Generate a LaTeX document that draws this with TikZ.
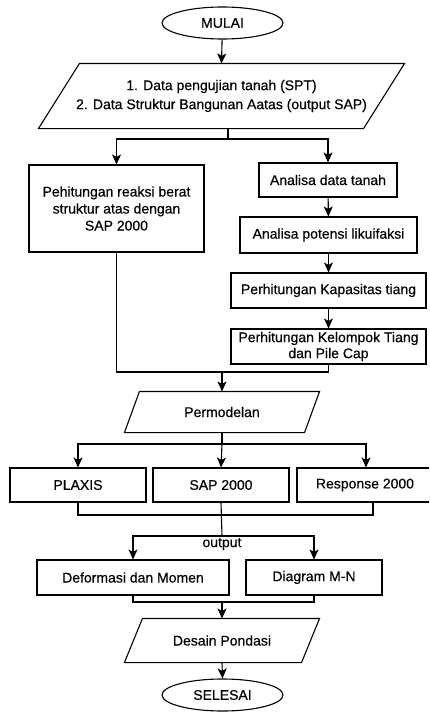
\documentclass[tikz,border=0pt]{standalone}
\usepackage{fontspec}
\setmainfont{Liberation Sans}[FakeBold=0.4]
\usetikzlibrary{shapes.geometric,arrows.meta}
\tikzset{
  base/.style={line width=1.1pt, inner sep=0pt, align=center, font=\fontsize{14}{17}\selectfont},
  box/.style={base, draw, rectangle},
  oval/.style={base, draw, ellipse, minimum width=121pt, minimum height=32pt},
  paratext/.style={base, rectangle},
  line/.style={line width=1.1pt},
  arr/.style={line width=1.1pt, -{Stealth[length=10pt, width=9pt, inset=2.5pt]}},
}
\begin{document}
\begin{tikzpicture}[x=1pt,y=-1pt]
\useasboundingbox (0,0) rectangle (429,712);
\clip (0,0) rectangle (429,712);
\fill[white] (0,0) rectangle (429,712);

\node[oval] (mulai) at (222.5,23) {MULAI};
\node[paratext, minimum width=365pt, minimum height=64pt, font=\fontsize{14}{19}\selectfont] (data) at (221.5,96)
  {1. Data pengujian tanah (SPT)\\2. Data Struktur Bangunan Aatas (output SAP)};
\draw[line] ([xshift=41pt]data.north west) -- (data.north east) -- ([xshift=-41pt]data.south east) -- (data.south west) -- cycle;

\node[box, minimum width=175pt, minimum height=87pt] (left) at (116.5,208.5)
  {Pehitungan reaksi berat\\struktur atas dengan\\SAP 2000};
\node[box, minimum width=138pt, minimum height=34pt] (tanah) at (328,180) {Analisa data tanah};
\node[box, minimum width=177pt, minimum height=36pt] (likui) at (328.5,235) {Analisa potensi likuifaksi};
\node[box, minimum width=195pt, minimum height=35pt] (kapas) at (328.5,290.5) {Perhitungan Kapasitas tiang};
\node[box, minimum width=195pt, minimum height=35pt, font=\fontsize{14}{16}\selectfont] (kelom) at (328.5,346.5)
  {Perhitungan Kelompok Tiang\\dan Pile Cap};

\node[paratext, minimum width=194pt, minimum height=40pt] (model) at (222,412) {Permodelan};
\draw[line] ([xshift=15pt]model.north west) -- (model.north east) -- ([xshift=-15pt]model.south east) -- (model.south west) -- cycle;

\node[box, minimum width=136pt, minimum height=34pt] (plaxis) at (78,485) {PLAXIS};
\node[box, minimum width=136pt, minimum height=34pt] (sap) at (221,485) {SAP 2000};
\node[box, minimum width=136pt, minimum height=34pt] (resp) at (365,485) {Response 2000};

\node[box, minimum width=192pt, minimum height=35pt] (deform) at (133,577.5) {Deformasi dan Momen};
\node[box, minimum width=136pt, minimum height=35pt] (diag) at (314,577.5) {Diagram M-N};

\node[paratext, minimum width=194pt, minimum height=43pt] (desain) at (222,640.5) {Desain Pondasi};
\draw[line] ([xshift=18pt]desain.north west) -- (desain.north east) -- ([xshift=-18pt]desain.south east) -- (desain.south west) -- cycle;

\node[oval] (selesai) at (222.5,695) {SELESAI};

\node[base] (outlbl) at (222,544) {output};

% junctions
\coordinate (j1) at (228,139);
\coordinate (j2) at (222,372);
\coordinate (j3) at (222,444);
\coordinate (j4) at (222,515);
\coordinate (j5) at (222,536);
\coordinate (j6) at (222,602);

\draw[arr] (mulai) -- (data.north);
\draw[line] (data.south -| j1) -- (j1);
\draw[arr] (j1) -| (left.north);
\draw[arr] (j1) -| (tanah.north);
\draw[arr] (tanah) -- (likui);
\draw[arr] (likui) -- (kapas);
\draw[arr] (kapas) -- (kelom);
\draw[line] (left.south) |- (j2) -| (kelom.south);
\draw[arr] (j2) -- (model.north);
\draw[line] (model.south) -- (j3);
\draw[arr] (j3) -| (plaxis.north);
\draw[arr] (j3) -- (sap.north);
\draw[arr] (j3) -| ([xshift=1pt]resp.north);
\draw[line] (plaxis.south) |- (j4);
\draw[line] (sap.south) -- (j5);
\draw[line] (j4) -| ([xshift=8pt]resp.south);
\draw[arr] (j5) -| (deform.north);
\draw[arr] (j5) -| (diag.north);
\draw[line] (deform.south) |- (j6) -| (diag.south);
\draw[arr] (j6) -- (desain.north);
\draw[arr] (desain.south) -- (selesai.north);
\end{tikzpicture}
\end{document}
